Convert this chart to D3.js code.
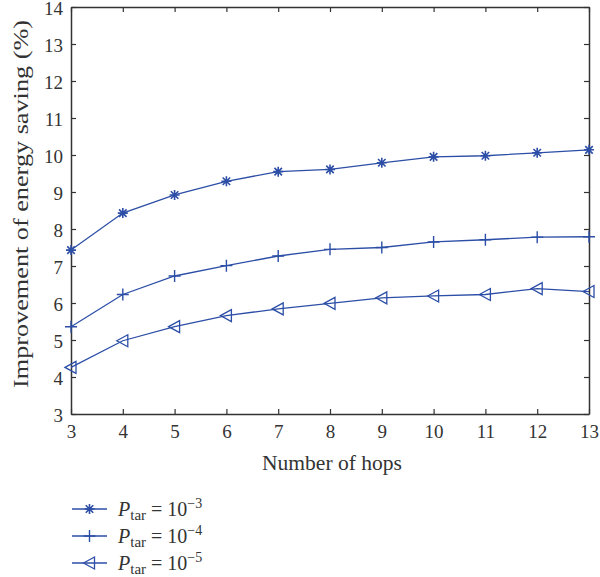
<!DOCTYPE html>
<meta charset="utf-8">
<title>Energy saving vs hops</title>
<script src="https://d3js.org/d3.v7.min.js"></script>
<style>
  body { margin: 0; background: #fff; }
  text { font-family: "Liberation Serif", "DejaVu Serif", serif; fill: #333; }
</style>
<body>
<div id="chart"></div>
<script>
// data
var hops = [3, 4, 5, 6, 7, 8, 9, 10, 11, 12, 13];
var p3 = [7.43, 8.43, 8.92, 9.29, 9.55, 9.61, 9.79, 9.95, 9.98, 10.06, 10.14];
var p4 = [5.36, 6.23, 6.73, 7.01, 7.27, 7.45, 7.50, 7.65, 7.71, 7.78, 7.79];
var p5 = [4.26, 4.98, 5.36, 5.66, 5.84, 5.99, 6.14, 6.19, 6.23, 6.39, 6.31];
var yTicks = [3, 4, 5, 6, 7, 8, 9, 10, 11, 12, 13, 14];
var legendExp = ["\u22123", "\u22124", "\u22125"];

var series = [
  { values: p3, marker: "star" },
  { values: p4, marker: "plus" },
  { values: p5, marker: "tri" }
];

var margin = {top: 7, right: 11, bottom: 163, left: 71},
    width = 600 - margin.left - margin.right,
    height = 577 - margin.top - margin.bottom;
var blue = "#2c4ea6";

var svg = d3.select("#chart").append("svg")
    .attr("width", 600)
    .attr("height", 577)
  .append("g")
    .attr("transform", "translate(" + margin.left + "," + margin.top + ")");

var x = d3.scaleLinear().domain([3, 13]).range([0, width]);
var y = d3.scaleLinear().domain([3, 14]).range([height, 0]);

// axes, ticks pointing inward, on all four sides
function styleAxis(g) {
  g.select(".domain").attr("stroke", "#333").attr("stroke-width", 1.5);
  g.selectAll(".tick line").attr("stroke", "#333").attr("stroke-width", 1.2);
  g.selectAll(".tick text").style("font-size", "19px").attr("fill", "#333");
}

svg.append("g")
  .attr("transform", "translate(0," + height + ")")
  .call(d3.axisBottom(x).tickValues(hops).tickFormat(d3.format("d")).tickSizeInner(-5).tickSizeOuter(0).tickPadding(11))
  .call(styleAxis);
svg.append("g")
  .call(d3.axisTop(x).tickValues(hops).tickFormat("").tickSizeInner(-5).tickSizeOuter(0))
  .call(styleAxis);
svg.append("g")
  .call(d3.axisLeft(y).tickValues(yTicks).tickFormat(d3.format("d")).tickSizeInner(-5).tickSizeOuter(0).tickPadding(8))
  .call(styleAxis)
  .selectAll(".tick text").attr("dy", "0.42em");
svg.append("g")
  .attr("transform", "translate(" + width + ",0)")
  .call(d3.axisRight(y).tickValues(yTicks).tickFormat("").tickSizeInner(-5).tickSizeOuter(0))
  .call(styleAxis);

// axis labels
svg.append("text")
  .attr("x", 332 - margin.left)
  .attr("y", 470 - margin.top)
  .attr("text-anchor", "middle")
  .attr("textLength", 140)
  .attr("lengthAdjust", "spacingAndGlyphs")
  .style("font-size", "20px")
  .text("Number of hops");
svg.append("text")
  .attr("transform", "translate(" + (28 - margin.left) + "," + (204 - margin.top) + ")rotate(-90)")
  .attr("text-anchor", "middle")
  .attr("textLength", 368)
  .attr("lengthAdjust", "spacingAndGlyphs")
  .style("font-size", "20px")
  .text("Improvement of energy saving (%)");

// marker shapes
function drawMarker(g, type) {
  if (type === "star") {
    var r = 5;
    g.append("path")
      .attr("d", "M" + (-r) + ",0H" + r + "M0," + (-r) + "V" + r +
                 "M" + (-r * 0.75) + "," + (-r * 0.75) + "L" + (r * 0.75) + "," + (r * 0.75) +
                 "M" + (-r * 0.75) + "," + (r * 0.75) + "L" + (r * 0.75) + "," + (-r * 0.75))
      .attr("stroke", blue).attr("stroke-width", 1.6).attr("fill", "none");
  } else if (type === "plus") {
    var p = 6;
    g.append("path")
      .attr("d", "M" + (-p) + ",0H" + p + "M0," + (-p) + "V" + p)
      .attr("stroke", blue).attr("stroke-width", 1.4).attr("fill", "none");
  } else {
    g.append("path")
      .attr("d", "M-6,0L5,-6L5,6Z")
      .attr("stroke", blue).attr("stroke-width", 1.3).attr("fill", "none");
  }
}

var line = d3.line()
  .x(function(d, i) { return x(hops[i]); })
  .y(function(d) { return y(d); });

series.forEach(function(s) {
  svg.append("path")
    .datum(s.values)
    .attr("d", line)
    .attr("fill", "none")
    .attr("stroke", blue)
    .attr("stroke-width", 1.3);
  s.values.forEach(function(v, i) {
    var g = svg.append("g").attr("transform", "translate(" + x(hops[i]) + "," + y(v) + ")");
    drawMarker(g, s.marker);
  });
});

// legend
var legend = d3.select("svg").append("g").attr("transform", "translate(72,509)");
series.forEach(function(s, i) {
  var row = legend.append("g").attr("transform", "translate(0," + (i * 27) + ")");
  row.append("line")
    .attr("x1", 0).attr("x2", 35).attr("y1", 0).attr("y2", 0)
    .attr("stroke", blue).attr("stroke-width", 1.3);
  var m = row.append("g").attr("transform", "translate(17.5,0)");
  drawMarker(m, s.marker);
  var t = row.append("text")
    .attr("x", 46)
    .attr("y", 7)
    .style("font-size", "20px");
  t.append("tspan").style("font-style", "italic").text("P");
  t.append("tspan").attr("dy", 4).style("font-size", "15px").text("tar");
  t.append("tspan").attr("dy", -4).text(" = 10");
  t.append("tspan").attr("dy", -8).style("font-size", "14px").text(legendExp[i]);
});
</script>
</body>
